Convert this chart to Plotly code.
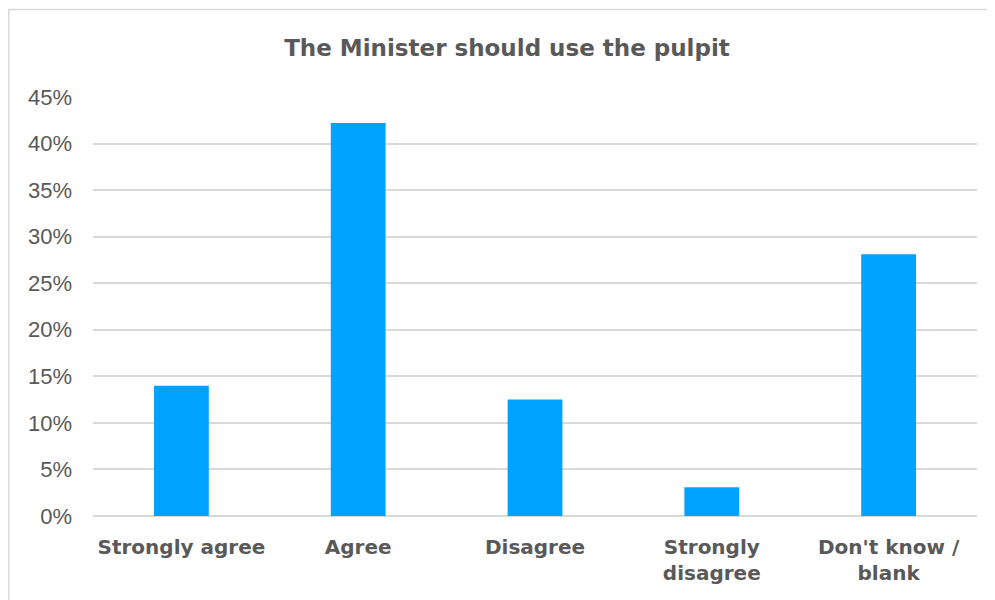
import plotly.graph_objects as go

categories = ["Strongly agree", "Agree", "Disagree", "Strongly<br>disagree", "Don't know /<br>blank"]
values = [0.14, 0.422, 0.125, 0.031, 0.281]
tick_vals = [0, 0.05, 0.10, 0.15, 0.20, 0.25, 0.30, 0.35, 0.40, 0.45]
tick_text = ["0%", "5%", "10%", "15%", "20%", "25%", "30%", "35%", "40%", "45%"]
title_text = "The Minister should use the pulpit"

W, H = 995, 600
OFF = 8  # browser body margin
ML, MR, MT, MB = 93 - OFF, 18 + OFF, 97 - OFF, 84 + OFF
pw, ph = W - ML - MR, H - MT - MB

def px(x):
    return (x - ML) / pw

def py(y):
    return (H - MB - y) / ph

fig = go.Figure(go.Bar(
    x=categories, y=values,
    marker=dict(color="#00A2FF", line=dict(width=0)),
    width=0.31,
))

fig.update_layout(
    width=W, height=H,
    margin=dict(l=ML, r=MR, t=MT, b=MB),
    plot_bgcolor="white", paper_bgcolor="white",
    showlegend=False,
    title=dict(text=title_text, xref="container", x=(507 - OFF) / W, xanchor="center",
               yref="container", y=1 - (48 - OFF) / H, yanchor="middle",
               font=dict(family="DejaVu Sans", size=23, color="#595959", weight="bold")),
    xaxis=dict(showgrid=False, showline=False, ticks="", ticklabelstandoff=17,
               tickfont=dict(family="DejaVu Sans", size=20, color="#595959", weight="bold")),
    yaxis=dict(range=[0, 0.45], tickvals=tick_vals, ticktext=tick_text, showgrid=True,
               gridcolor="#D9D9D9", gridwidth=1.5, zeroline=True, zerolinecolor="#D9D9D9", zerolinewidth=1.5,
               showline=False, ticks="", ticklabelstandoff=20,
               tickfont=dict(family="Liberation Sans", size=22, color="#595959")),
    shapes=[dict(type="rect", xref="paper", yref="paper",
                 x0=px(0.75), x1=px(W + 10), y0=py(H + 10), y1=py(1.5),
                 line=dict(color="#D9D9D9", width=1.5), fillcolor="rgba(0,0,0,0)", layer="below")],
)

fig.write_html("out.html")
